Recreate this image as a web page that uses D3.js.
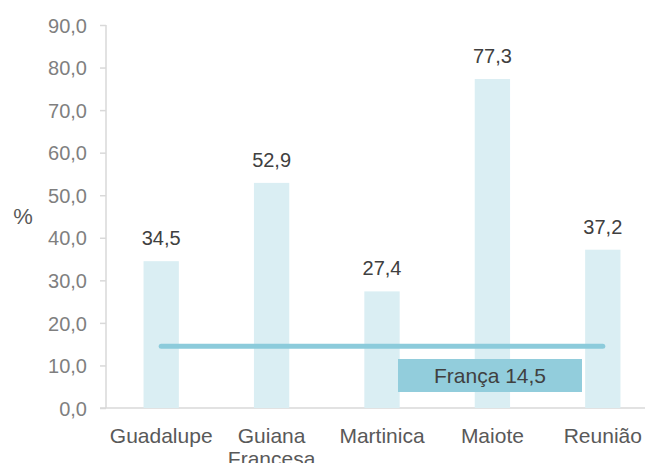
<!DOCTYPE html>
<html>
<head>
<meta charset="utf-8">
<script src="https://cdn.jsdelivr.net/npm/d3@7"></script>
<style>
  body { margin: 0; background: #ffffff; }
  svg { display: block; font-family: "Liberation Sans", Arial, sans-serif; }
</style>
</head>
<body>
<svg id="chart" width="645" height="463"></svg>
<script>
"use strict";

// data
var categories = ["Guadalupe", "Guiana Francesa", "Martinica", "Maiote", "Reunião"];
var values = [34.5, 52.9, 27.4, 77.3, 37.2];
var franceValue = 14.5;
var franceLabel = "França";
var yTicks = [0, 10, 20, 30, 40, 50, 60, 70, 80, 90];

var svg = d3.select("#chart");
var fmt = v => d3.format(".1f")(v).replace(".", ",");

var x = d3.scaleBand()
    .domain(categories)
    .range([106, 658])
    .paddingInner(0.68)
    .paddingOuter(0.34);

var y = d3.scaleLinear()
    .domain([0, 90])
    .range([408, 25]);

var mid = c => x(c) + x.bandwidth() / 2;

// y axis
var yAxis = svg.append("g")
    .attr("transform", "translate(106,0)")
    .call(d3.axisLeft(y).tickValues(yTicks).tickFormat(fmt).tickSize(6).tickPadding(13));
yAxis.selectAll("line").attr("stroke", "#d9d9d9").attr("stroke-width", 1.5);
yAxis.select(".domain").attr("stroke", "#d9d9d9").attr("stroke-width", 1.5).attr("d", "M0,25V408");
yAxis.selectAll("text")
    .attr("fill", "#7f7f7f")
    .attr("dy", "0.36em")
    .style("font-size", "20px")
    .style("font-family", "Liberation Sans, Arial, sans-serif");

// x axis line
svg.append("line")
    .attr("x1", 100).attr("x2", 645)
    .attr("y1", y(0)).attr("y2", y(0))
    .attr("stroke", "#d9d9d9").attr("stroke-width", 1.5);

// unit label
svg.append("text")
    .attr("x", 23).attr("y", 224)
    .attr("text-anchor", "middle")
    .attr("fill", "#595959")
    .style("font-size", "22px")
    .text("%");

// bars
svg.selectAll("rect.bar").data(values)
  .enter().append("rect")
    .attr("class", "bar")
    .attr("x", (d, i) => x(categories[i]))
    .attr("width", x.bandwidth())
    .attr("y", d => y(d))
    .attr("height", d => y(0) - y(d))
    .attr("fill", "#daeef3");

// value labels
svg.selectAll("text.val").data(values)
  .enter().append("text")
    .attr("class", "val")
    .attr("x", (d, i) => mid(categories[i]))
    .attr("y", d => y(d) - 16)
    .attr("text-anchor", "middle")
    .attr("fill", "#404040")
    .style("font-size", "20px")
    .text(fmt);

// category labels, wrapped at spaces
svg.selectAll("text.cat").data(categories)
  .enter().append("text")
    .attr("class", "cat")
    .attr("text-anchor", "middle")
    .attr("fill", "#595959")
    .style("font-size", "21px")
    .each(function(d) {
      var t = d3.select(this);
      d.split(" ").forEach((w, k) => {
        t.append("tspan")
          .attr("x", mid(d))
          .attr("y", 443 + k * 23)
          .text(w);
      });
    });

// France reference line
svg.append("line")
    .attr("x1", mid(categories[0]))
    .attr("x2", mid(categories[categories.length - 1]))
    .attr("y1", y(franceValue)).attr("y2", y(franceValue))
    .attr("stroke", "#8ccbdb")
    .attr("stroke-width", 5)
    .attr("stroke-linecap", "round");

// label box for France
svg.append("rect")
    .attr("x", 398).attr("y", 359)
    .attr("width", 184).attr("height", 33)
    .attr("fill", "#92cddc");
svg.append("text")
    .attr("x", 490).attr("y", 383)
    .attr("text-anchor", "middle")
    .attr("fill", "#404040")
    .style("font-size", "21px")
    .text(franceLabel + " " + fmt(franceValue));
</script>
</body>
</html>
